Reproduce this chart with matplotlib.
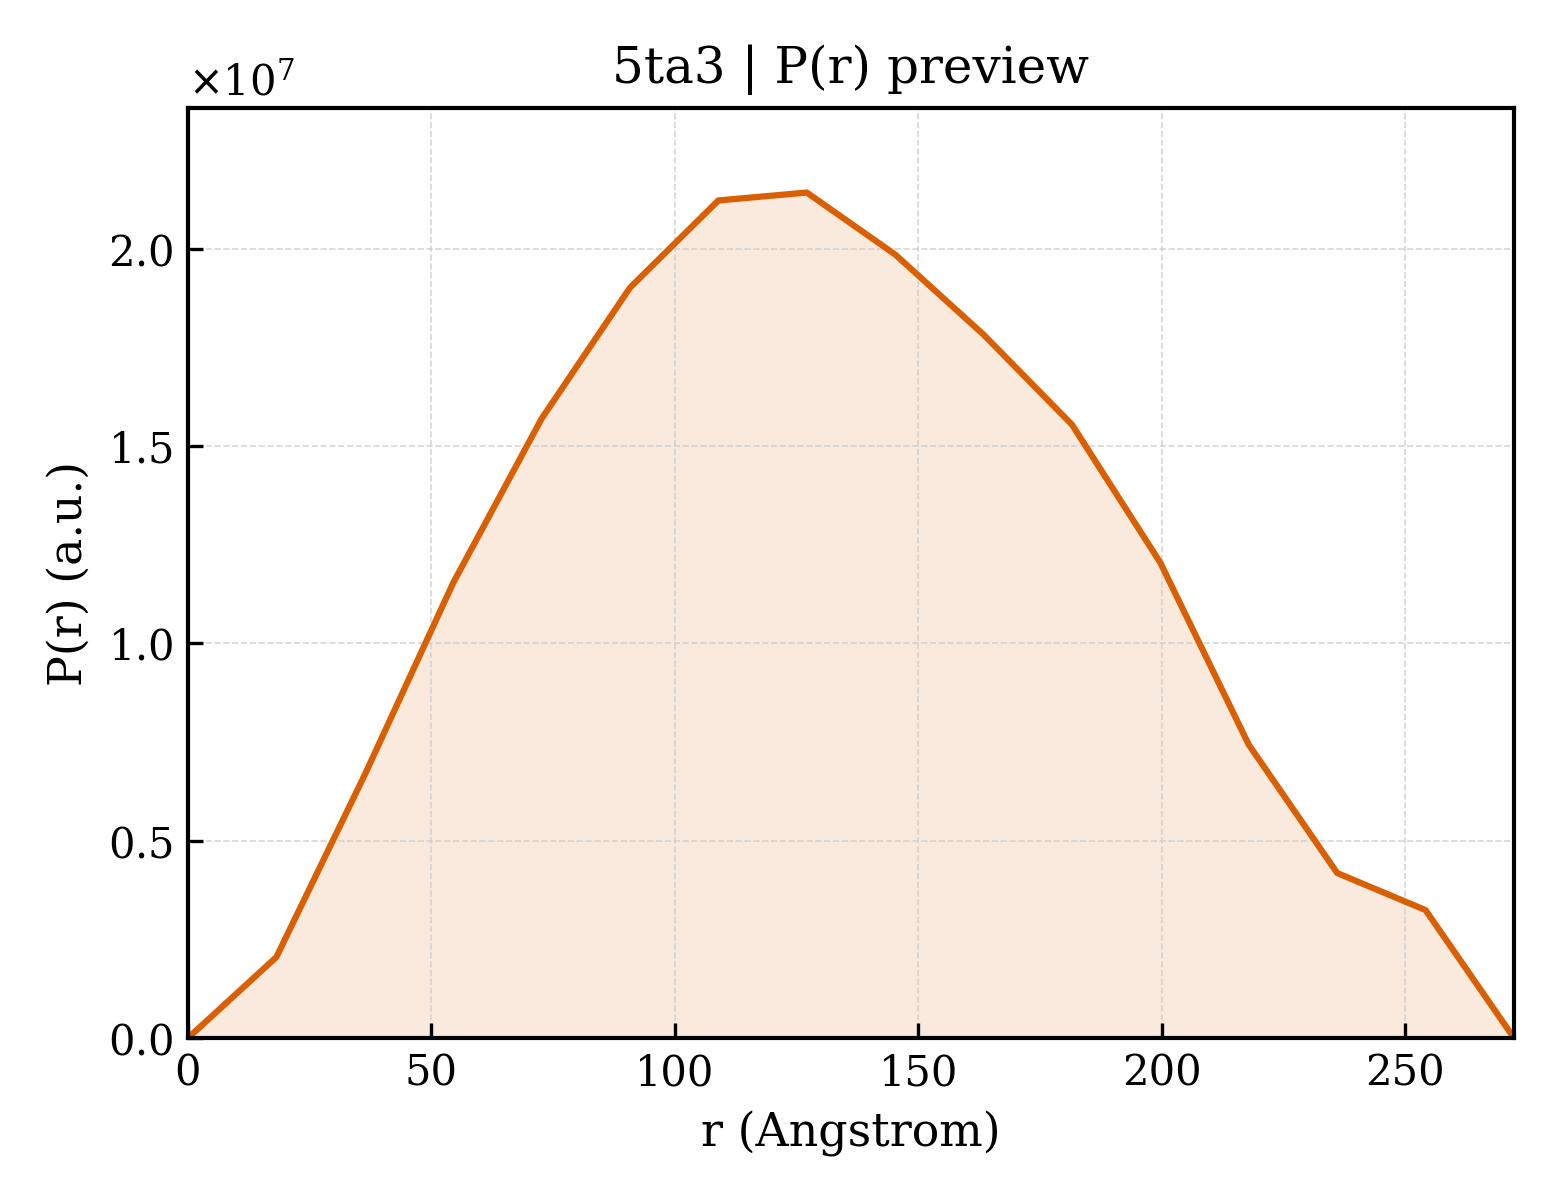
import numpy as np
import matplotlib
matplotlib.use("Agg")
import matplotlib.pyplot as plt

plt.rcParams['font.family'] = ['DejaVu Serif']

# P(r) values read from the preview (units of 1e7)
r_max = 272.4
n_points = 16
pr_values = [0.0, 0.205, 0.667, 1.153, 1.569, 1.901, 2.122, 2.142,
             1.985, 1.782, 1.554, 1.204, 0.743, 0.418, 0.324, 0.0]

r = np.linspace(0, r_max, n_points)
pr = np.array(pr_values) * 1e7

fig = plt.figure(figsize=(5.2, 4), dpi=300)
ax = fig.add_subplot(111)
fig.subplots_adjust(left=0.1205, right=0.9705, top=0.91, bottom=0.135)

color = '#d95f02'
ax.fill_between(r, pr, 0, color=color, alpha=0.13, linewidth=0)
ax.plot(r, pr, color=color, linewidth=1.5)

ax.set_xlim(0, r_max)
ax.set_ylim(0, pr.max() * 1.1)
ax.set_xlabel('r (Angstrom)', fontsize=11)
ax.set_ylabel('P(r) (a.u.)', fontsize=11)
ax.set_title('5ta3 | P(r) preview', fontsize=12)
ax.tick_params(direction='in', labelsize=10)
ax.grid(True, linestyle='--', linewidth=0.4, color='#cccccc', alpha=0.8)
ax.ticklabel_format(axis='y', style='sci', scilimits=(0, 0), useMathText=True)
ax.yaxis.get_offset_text().set_fontsize(10)
for s in ax.spines.values():
    s.set_linewidth(1.0)

fig.savefig('out.png', dpi=300)
